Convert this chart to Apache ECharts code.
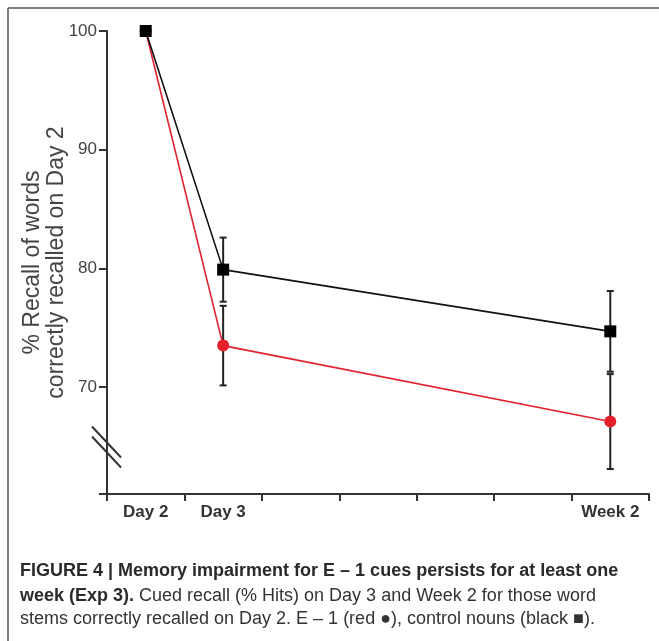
<!DOCTYPE html>
<html>
<head>
<meta charset="utf-8">
<script src="https://cdn.jsdelivr.net/npm/echarts@6/dist/echarts.min.js"></script>
<style>
html,body{margin:0;padding:0;background:#fff;}
#chart{width:659px;height:641px;}
</style>
</head>
<body>
<div id="chart"></div>
<script>
// ---- data ----
const categories = ['Day 2', 'Day 3', '', '', '', '', 'Week 2'];
const controlMeans = [100, 79.9, null, null, null, null, 74.7];
const controlErr   = [0,   2.7,  null, null, null, null, 3.4];
const e1Means      = [100, 73.5, null, null, null, null, 67.1];
const e1Err        = [0,   3.35, null, null, null, null, 4.0];
const yTicks = [70, 80, 90, 100];
const yName = '% Recall of words\ncorrectly recalled on Day 2';
const captionLine1 = 'FIGURE 4 | Memory impairment for E \u2013 1 cues persists for at least one';
const captionLine2Bold = 'week (Exp 3).';
const captionLine2 = ' Cued recall (% Hits) on Day 3 and Week 2 for those word';
const captionLine3 = 'stems correctly recalled on Day 2. E \u2013 1 (red \u25CF), control nouns (black \u25A0).';

function errData(means, errs) {
  const out = [];
  means.forEach((m, i) => { if (m != null && errs[i]) out.push([i, m, errs[i]]); });
  return out;
}

function errRender(params, api) {
  const x = api.value(0), m = api.value(1), e = api.value(2);
  const top = api.coord([x, m + e]);
  const bot = api.coord([x, m - e]);
  const w = 3.5;
  const st = { stroke: '#222', lineWidth: 2 };
  return {
    type: 'group',
    children: [
      { type: 'line', shape: { x1: top[0], y1: top[1], x2: bot[0], y2: bot[1] }, style: st },
      { type: 'line', shape: { x1: top[0] - w, y1: top[1], x2: top[0] + w, y2: top[1] }, style: st },
      { type: 'line', shape: { x1: bot[0] - w, y1: bot[1], x2: bot[0] + w, y2: bot[1] }, style: st }
    ]
  };
}

const chart = echarts.init(document.getElementById('chart'), null, { renderer: 'canvas' });
const axisColor = '#333';
const fontCap = 'Liberation Sans, Arial, sans-serif';
const option = {
  backgroundColor: '#fff',
  animation: false,
  grid: { left: 107, right: 10, top: 31, bottom: 147 },
  xAxis: {
    type: 'category',
    data: categories,
    boundaryGap: true,
    axisLine: { lineStyle: { color: axisColor, width: 2 } },
    axisTick: { show: true, length: 7, lineStyle: { color: axisColor, width: 2 }, alignWithLabel: false },
    axisLabel: { color: '#333', fontSize: 17, fontWeight: 'bold', fontFamily: fontCap, margin: 10, interval: 0 },
    splitLine: { show: false }
  },
  yAxis: {
    type: 'value',
    min: 61,
    max: 100,
    name: yName,
    nameLocation: 'middle',
    nameRotate: 90,
    nameGap: 38,
    nameMoveOverlap: false,
    nameTextStyle: { color: '#444', fontSize: 23, lineHeight: 24, fontFamily: fontCap, align: 'center' },
    axisLine: { show: true, lineStyle: { color: axisColor, width: 2 } },
    axisTick: { show: true, length: 8, customValues: yTicks, lineStyle: { color: axisColor, width: 2 } },
    axisLabel: { color: '#444', fontSize: 17, margin: 10, fontFamily: fontCap, customValues: yTicks },
    splitLine: { show: false }
  },
  series: [
    { type: 'custom', name: 'e1err', renderItem: errRender, data: errData(e1Means, e1Err), z: 1, encode: { x: 0, y: 1 } },
    { type: 'custom', name: 'ctrlerr', renderItem: errRender, data: errData(controlMeans, controlErr), z: 1, encode: { x: 0, y: 1 } },
    {
      type: 'line', name: 'E-1', data: e1Means, connectNulls: true,
      symbol: 'circle', symbolSize: 12,
      lineStyle: { color: '#e3202b', width: 1.6 },
      itemStyle: { color: '#e3202b' }, z: 3
    },
    {
      type: 'line', name: 'control', data: controlMeans, connectNulls: true,
      symbol: 'rect', symbolSize: 12,
      lineStyle: { color: '#111', width: 1.6 },
      itemStyle: { color: '#000' }, z: 4
    }
  ]
};
chart.setOption(option);

// decorations: frame, axis break, caption
const breakPt = chart.convertToPixel({ gridIndex: 0 }, [0, 65]);
const gridLeft = 107, gridBottom = 641 - 147;
const bx = gridLeft, by = breakPt[1];
chart.setOption({
  graphic: [
    { type: 'line', shape: { x1: 8, y1: 8, x2: 659, y2: 8 }, style: { stroke: '#555', lineWidth: 1.5 } },
    { type: 'line', shape: { x1: 8, y1: 8, x2: 8, y2: 641 }, style: { stroke: '#555', lineWidth: 1.5 } },
    { type: 'line', shape: { x1: gridLeft - 8, y1: gridBottom, x2: gridLeft, y2: gridBottom }, style: { stroke: axisColor, lineWidth: 2 } },
    { type: 'line', shape: { x1: bx - 15, y1: by - 20, x2: bx + 14, y2: by + 11 }, style: { stroke: '#333', lineWidth: 2 } },
    { type: 'line', shape: { x1: bx - 15, y1: by - 10, x2: bx + 14, y2: by + 21 }, style: { stroke: '#333', lineWidth: 2 } },
    { type: 'text', left: 20, top: 562, style: { text: captionLine1, font: 'bold 18px ' + fontCap, fill: '#2a2a2a' } },
    { type: 'text', left: 20, top: 587, style: { text: '{b|' + captionLine2Bold + '}{r|' + captionLine2 + '}', rich: { b: { font: 'bold 18px ' + fontCap, fill: '#2a2a2a' }, r: { font: '18px ' + fontCap, fill: '#333' } } } },
    { type: 'text', left: 20, top: 610, style: { text: captionLine3, font: '18px ' + fontCap, fill: '#333' } }
  ]
});
</script>
</body>
</html>
